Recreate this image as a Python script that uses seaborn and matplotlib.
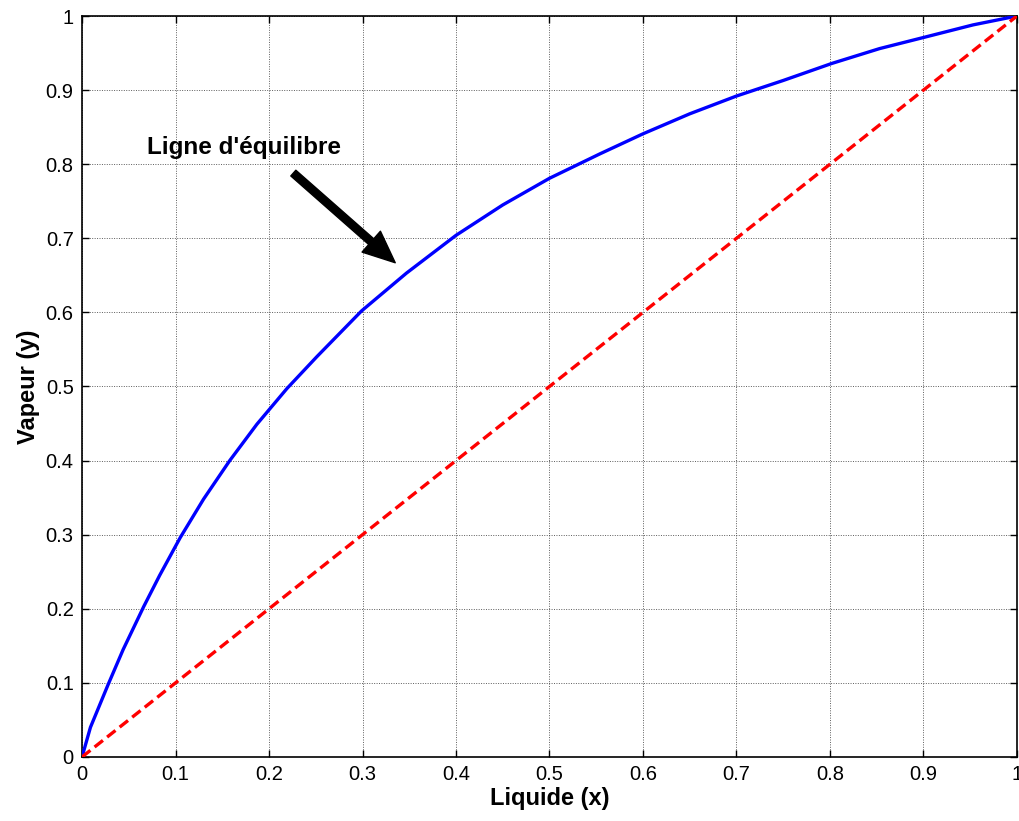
import numpy as np
import pandas as pd
import matplotlib
matplotlib.use("Agg")
import matplotlib.pyplot as plt
import seaborn as sns

# Equilibrium curve values
x_liq = [0.0, 0.009, 0.028, 0.044, 0.066, 0.083, 0.105, 0.130, 0.158, 0.187,
         0.219, 0.251, 0.299, 0.347, 0.400, 0.450, 0.500, 0.554, 0.600, 0.650,
         0.700, 0.750, 0.802, 0.853, 0.900, 0.953, 1.0]
y_vap = [0.0, 0.040, 0.098, 0.145, 0.203, 0.245, 0.296, 0.348, 0.400, 0.449,
         0.497, 0.540, 0.602, 0.653, 0.704, 0.745, 0.781, 0.814, 0.841, 0.868,
         0.892, 0.913, 0.936, 0.956, 0.971, 0.988, 1.0]
diag = [0.0, 1.0]

ticks = [0, 0.1, 0.2, 0.3, 0.4, 0.5, 0.6, 0.7, 0.8, 0.9, 1]
tick_labels = ["0", "0.1", "0.2", "0.3", "0.4", "0.5", "0.6", "0.7", "0.8", "0.9", "1"]

sns.set_style("ticks")
plt.rcParams['font.family'] = ['Liberation Sans', 'DejaVu Sans']

fig = plt.figure(figsize=(10.19, 8.21), dpi=100)
ax = fig.add_axes([0.0805, 0.078, 0.9175, 0.9025])

df_eq = pd.DataFrame({"x": x_liq, "y": y_vap})
df_d = pd.DataFrame({"x": diag, "y": diag})
sns.lineplot(data=df_eq, x="x", y="y", ax=ax, color="#0000ff", linewidth=2.4,
             zorder=3, sort=False)
sns.lineplot(data=df_d, x="x", y="y", ax=ax, color="#ff0000", linewidth=2.4,
             linestyle=(0, (3.2, 1.6)), zorder=3)

ax.set_xlim(0, 1)
ax.set_ylim(0, 1)
ax.set_xticks(ticks)
ax.set_xticklabels(tick_labels)
ax.set_yticks(ticks)
ax.set_yticklabels(tick_labels)
ax.tick_params(direction="in", top=True, right=True, length=5, width=1,
               labelsize=14.5, colors="black", labelcolor="black", pad=6)
ax.grid(True, color="#333333", linestyle=(0, (1, 1.5)), linewidth=0.7, alpha=0.8)
for s in ax.spines.values():
    s.set_linewidth(1.2)
    s.set_color("black")

ax.set_xlabel("Liquide (x)", fontsize=17, fontweight="bold", labelpad=2, color="black")
ax.set_ylabel("Vapeur (y)", fontsize=17, fontweight="bold", labelpad=4, color="black")

ax.text(0.173, 0.822, "Ligne d'équilibre", fontsize=17.5, fontweight="bold",
        ha="center", va="center", color="black")
ax.annotate("", xy=(0.335, 0.667), xytext=(0.226, 0.788),
            arrowprops=dict(facecolor="black", edgecolor="black", width=5.5,
                            headwidth=20, headlength=23, shrink=0))

fig.savefig("out.png", dpi=100)
